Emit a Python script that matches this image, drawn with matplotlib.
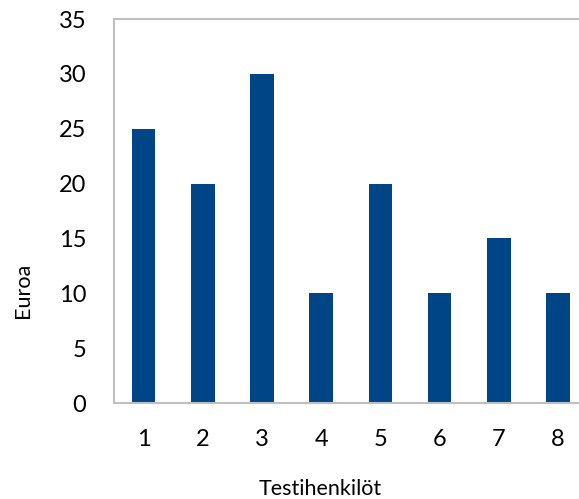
import numpy as np
import matplotlib.pyplot as plt

plt.rcParams['font.family'] = ['Lato', 'DejaVu Sans']

henkilot = ['1', '2', '3', '4', '5', '6', '7', '8']
euroa = [25, 20, 30, 10, 20, 10, 15, 10]

W, H = 579, 499
fig = plt.figure(figsize=(W / 100, H / 100), dpi=100)
# oikea reuna jää kuvan ulkopuolelle kuten alkuperäisessä
aw, ah = 473.6, 384
ax = fig.add_axes([114 / W, 96 / H, aw / W, ah / H])

x = np.arange(len(henkilot))
ax.bar(x, euroa, width=0.4, color='#004586')

ax.set_xlim(-0.5, len(henkilot) - 0.5)
ax.set_ylim(0, 35)
ax.set_yticks(np.arange(0, 36, 5))
ax.set_xticks(x)
ax.set_xticklabels(henkilot)

for s in ['left', 'bottom', 'top', 'right']:
    ax.spines[s].set_color('#bfbfbf')
    ax.spines[s].set_linewidth(1.5)

ax.tick_params(length=0, labelsize=17, colors='black')
ax.tick_params(axis='y', pad=20)
ax.tick_params(axis='x', pad=19)

ax.set_xlabel('Testihenkilöt', fontsize=15.5, va='center')
ax.xaxis.set_label_coords((320 - 114) / aw, (403 - 489) / ah)
ax.set_ylabel('Euroa', fontsize=15.5, va='center')
ax.yaxis.set_label_coords((23 - 114) / aw, (403 - 290) / ah)

fig.savefig('out.png', dpi=100)
